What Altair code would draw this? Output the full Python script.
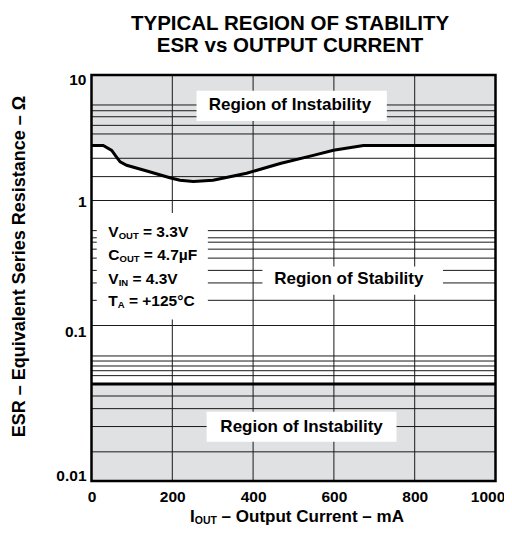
import altair as alt
import pandas as pd

# ---------------- data ----------------
curve_ma = [0, 29, 50, 62, 71, 87, 137, 194, 219, 252, 301, 384, 467, 549, 599, 673, 1000]
curve_esr = [2.74, 2.74, 2.51, 2.22, 2.03, 1.91, 1.72, 1.52, 1.45, 1.42, 1.45, 1.65, 1.97, 2.29, 2.51, 2.74, 2.74]
esr_top = 10
esr_bottom = 0.01
lower_bound_esr = 0.0421          # lower stability boundary
ma_min, ma_max = 0, 1000

grid_esr = [5.77, 5.19, 4.65, 3.97, 3.39, 2.17, 1.55, 1.0,
            0.574, 0.503, 0.464, 0.408, 0.346, 0.276, 0.219, 0.159, 0.1,
            0.0637, 0.0591, 0.0549, 0.0512, 0.0476, 0.0352, 0.0292, 0.0224, 0.0154]
grid_ma = [200, 400, 600, 800]
x_ticks = [0, 200, 400, 600, 800, 1000]
y_ticks = [0.01, 0.1, 1, 10]

region_labels = ["Region of Instability", "Region of Stability", "Region of Instability"]
region_ma = [491, 637, 520]
region_esr = [5.77, 0.237, 0.0224]

# white label boxes (mA x-range, ESR y-range)
box_x = [260, 423, 13, 285]
box_x2 = [731, 870, 288, 755]
box_y = [4.3, 0.1766, 0.1117, 0.0179]
box_y2 = [7.5, 0.297, 0.794, 0.0279]

cond_main = ["V", "C", "V", "T"]
cond_sub = ["OUT", "OUT", "IN", "A"]
cond_rest = ["= 3.3V", "= 4.7\u00b5F", "= 4.3V", "= +125\u00b0C"]
cond_esr = [0.564, 0.368, 0.237, 0.156]

title_lines = ["TYPICAL REGION OF STABILITY", "ESR vs OUTPUT CURRENT"]
y_title = "ESR \u2013 Equivalent Series Resistance \u2013 \u03a9"
x_title = ["I", "OUT", "\u2013 Output Current \u2013 mA"]

# ---------------- layout helpers ----------------
W, H = 404, 406
PX_PER_MA = W / (ma_max - ma_min)
FONT = "Liberation Sans"
GRAY = "#e0e1e3"

AW = {' ': .278, '+': .584, '.': .278, '=': .584, '\u00b5': .611, '\u00b0': .4, '\u2013': .556,
      'A': .722, 'C': .722, 'E': .667, 'F': .611, 'I': .278, 'N': .722, 'O': .778, 'T': .611,
      'U': .722, 'V': .667, 'a': .556, 'c': .556, 'e': .556, 'm': .889, 'n': .611, 'p': .611,
      'r': .389, 't': .333, 'u': .611}
for d in "0123456789":
    AW[d] = .556


def tw(s, size):
    return sum(AW.get(c, .6) for c in s) * size


MAIN, SUB = 15.5, 9.5
start_px = 16.8  # left edge of condition block, px from plot left
rows = []
for m, s, r, e in zip(cond_main, cond_sub, cond_rest, cond_esr):
    p1 = start_px
    p2 = p1 + tw(m, MAIN)
    p3 = p2 + tw(s, SUB) + tw(" ", MAIN)
    rows.append(dict(t=m, kind="main", ma=p1 / PX_PER_MA, esr=e))
    rows.append(dict(t=s, kind="sub", ma=p2 / PX_PER_MA, esr=e))
    rows.append(dict(t=r, kind="main", ma=p3 / PX_PER_MA, esr=e))
cond_df = pd.DataFrame(rows)

XT_MAIN, XT_SUB = 17, 10.5
xt_start = 98.5
xt_rows = [dict(t=x_title[0], kind="main", ma=xt_start / PX_PER_MA),
           dict(t=x_title[1], kind="sub", ma=(xt_start + tw(x_title[0], XT_MAIN)) / PX_PER_MA),
           dict(t=x_title[2], kind="main",
                ma=(xt_start + tw(x_title[0], XT_MAIN) + tw(x_title[1], XT_SUB) + tw(" ", XT_MAIN)) / PX_PER_MA)]
xt_df = pd.DataFrame(xt_rows)

# ---------------- scales / encodings ----------------
XS = alt.Scale(domain=[ma_min, ma_max], nice=False, zero=False)
YS = alt.Scale(type="log", domain=[0.01, 0.1, 1, 10], range=[H, 250.5, 125.5, 0], nice=False)
XA = alt.Axis(values=x_ticks, title=None, grid=False, ticks=False, domain=False,
              labelFont=FONT, labelFontWeight="bold", labelFontSize=15.5, labelColor="black",
              labelPadding=8, labelFlush=False, format="d",
              labelOffset={"condition": {"test": "datum.value == 1000", "value": -8}, "value": 0})
YA = alt.Axis(values=y_ticks, grid=False, ticks=False, domain=False, format="~g",
              labelFont=FONT, labelFontWeight="bold", labelFontSize=15.5, labelColor="black",
              labelPadding=5.5, labelFlush=False,
              labelOffset={"condition": [{"test": "datum.value == 10", "value": 4},
                                         {"test": "datum.value == 0.1", "value": 6},
                                         {"test": "datum.value == 0.01", "value": -5.5}],
                           "value": 1},
              title=y_title, titleFont=FONT, titleFontWeight="bold", titleFontSize=18,
              titleColor="black", titleAngle=270, titleX=-72.5, titleY=191,
              titleAlign="center", titleBaseline="middle")


def xe(f):
    return alt.X(f, type="quantitative", scale=XS, axis=XA)


def ye(f):
    return alt.Y(f, type="quantitative", scale=YS, axis=YA)


curve_df = pd.DataFrame({"ma": curve_ma, "esr": curve_esr, "top": [esr_top] * len(curve_ma)})

area = alt.Chart(curve_df).mark_area(color=GRAY, opacity=1).encode(
    x=xe("ma"), y=ye("esr"), y2="top")

low_df = pd.DataFrame({"x": [ma_min], "x2": [ma_max], "y": [esr_bottom], "y2": [lower_bound_esr]})
low_rect = alt.Chart(low_df).mark_rect(color=GRAY).encode(x=xe("x"), x2="x2", y=ye("y"), y2="y2")

gh = alt.Chart(pd.DataFrame({"esr": grid_esr})).mark_rule(color="#1a1a1a", strokeWidth=1).encode(y=ye("esr"))
gv = alt.Chart(pd.DataFrame({"ma": grid_ma})).mark_rule(color="#1a1a1a", strokeWidth=1).encode(x=xe("ma"))

box_df = pd.DataFrame({"x": box_x, "x2": box_x2, "y": box_y, "y2": box_y2})
boxes = alt.Chart(box_df).mark_rect(color="white").encode(x=xe("x"), x2="x2", y=ye("y"), y2="y2")

curve = alt.Chart(curve_df).mark_line(color="black", strokeWidth=3).encode(x=xe("ma"), y=ye("esr"))
low_line = alt.Chart(pd.DataFrame({"esr": [lower_bound_esr]})).mark_rule(
    color="black", strokeWidth=3).encode(y=ye("esr"))

reg_df = pd.DataFrame({"t": region_labels, "ma": region_ma, "esr": region_esr})
regions = alt.Chart(reg_df).mark_text(font=FONT, fontWeight="bold", fontSize=17, color="black",
                                      align="center", baseline="middle").encode(
    x=xe("ma"), y=ye("esr"), text="t")

cond_main_t = alt.Chart(cond_df).transform_filter("datum.kind == 'main'").mark_text(
    font=FONT, fontWeight="bold", fontSize=MAIN, color="black", align="left", baseline="middle").encode(
    x=xe("ma"), y=ye("esr"), text="t")
cond_sub_t = alt.Chart(cond_df).transform_filter("datum.kind == 'sub'").mark_text(
    font=FONT, fontWeight="bold", fontSize=SUB, color="black", align="left", baseline="middle", dy=4).encode(
    x=xe("ma"), y=ye("esr"), text="t")

XT_Y = H + 35.5
xt_main = alt.Chart(xt_df).transform_filter("datum.kind == 'main'").mark_text(
    font=FONT, fontWeight="bold", fontSize=XT_MAIN, color="black", align="left", baseline="middle").encode(
    x=xe("ma"), y=alt.value(XT_Y), text="t")
xt_sub = alt.Chart(xt_df).transform_filter("datum.kind == 'sub'").mark_text(
    font=FONT, fontWeight="bold", fontSize=XT_SUB, color="black", align="left", baseline="middle", dy=4).encode(
    x=xe("ma"), y=alt.value(XT_Y), text="t")

border_df = pd.DataFrame({"x": [ma_min], "x2": [ma_max], "y": [esr_bottom], "y2": [esr_top]})
border = alt.Chart(border_df).mark_rect(fillOpacity=0, stroke="black", strokeWidth=2.5).encode(
    x=xe("x"), x2="x2", y=ye("y"), y2="y2")

chart = alt.layer(area, low_rect, gh, gv, boxes, curve, low_line, regions,
                  cond_main_t, cond_sub_t, xt_main, xt_sub, border).properties(
    width=W, height=H,
    title=alt.TitleParams(title_lines, font=FONT, fontWeight="bold", fontSize=20.5, color="black",
                          anchor="middle", frame="group", lineHeight=21.5, offset=16, dx=-3.5),
    autosize=alt.AutoSizeParams(type="none"),
    padding={"left": 83.5, "top": 67, "right": 8.5, "bottom": 45},
).configure_view(stroke=None)

chart.save("out.html", embed_options={"renderer": "svg", "actions": False})
